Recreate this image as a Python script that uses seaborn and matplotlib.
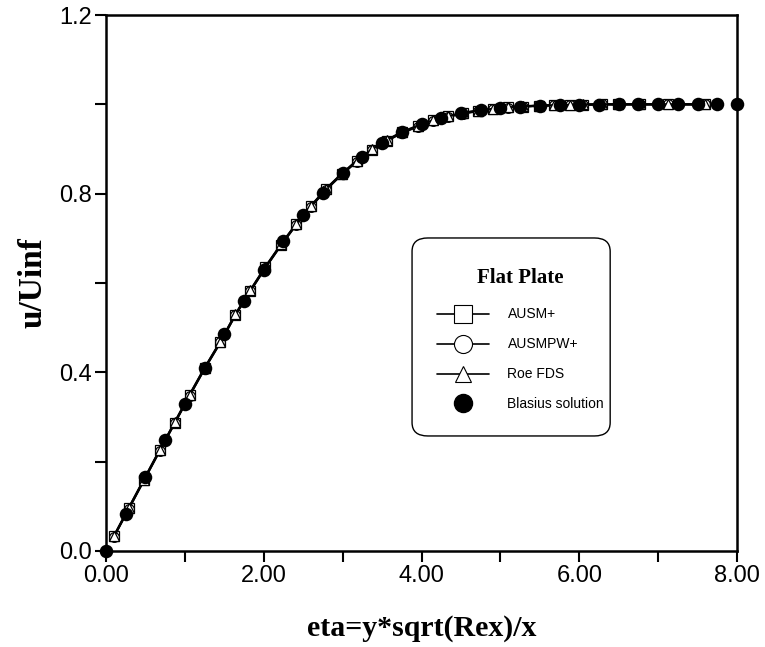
import numpy as np
import pandas as pd
import matplotlib
matplotlib.use("Agg")
import matplotlib.pyplot as plt
import seaborn as sns
from matplotlib.lines import Line2D
from matplotlib.patches import FancyBboxPatch
from matplotlib.ticker import MultipleLocator, FormatStrFormatter

# ---- data ----
eta_num = [0.10, 0.29, 0.48, 0.68, 0.87, 1.06, 1.25, 1.45, 1.64, 1.83, 2.02, 2.22,
           2.41, 2.60, 2.79, 2.99, 3.18, 3.37, 3.56, 3.75, 3.95, 4.14, 4.33, 4.52,
           4.72, 4.91, 5.10, 5.29, 5.49, 5.68, 5.88, 6.05, 6.29, 6.49, 6.77, 7.12, 7.59]
u_ausm = [0.033, 0.096, 0.159, 0.225, 0.287, 0.349, 0.409, 0.468, 0.529, 0.583,
          0.635, 0.686, 0.731, 0.772, 0.810, 0.844, 0.873, 0.898, 0.919, 0.937,
          0.951, 0.964, 0.973, 0.980, 0.986, 0.990, 0.993, 0.995, 0.997, 0.998,
          0.999, 0.999, 1.000, 1.000, 1.000, 1.000, 1.000]
u_ausmpw = [0.032, 0.095, 0.158, 0.224, 0.286, 0.348, 0.408, 0.467, 0.528, 0.582,
            0.634, 0.685, 0.730, 0.771, 0.809, 0.843, 0.872, 0.897, 0.918, 0.936,
            0.950, 0.963, 0.972, 0.979, 0.985, 0.989, 0.992, 0.995, 0.997, 0.998,
            0.999, 0.999, 1.000, 1.000, 1.000, 1.000, 1.000]
u_roe = [0.033, 0.097, 0.160, 0.226, 0.288, 0.350, 0.410, 0.469, 0.530, 0.584,
         0.636, 0.687, 0.732, 0.773, 0.811, 0.845, 0.874, 0.899, 0.920, 0.938,
         0.952, 0.964, 0.973, 0.981, 0.986, 0.990, 0.993, 0.996, 0.997, 0.998,
         0.999, 1.000, 1.000, 1.000, 1.000, 1.000, 1.000]

eta_bl = [0.00, 0.25, 0.50, 0.75, 1.00, 1.25, 1.50, 1.75, 2.00, 2.25, 2.50, 2.75,
          3.00, 3.25, 3.50, 3.75, 4.00, 4.25, 4.50, 4.75, 5.00, 5.25, 5.50, 5.75,
          6.00, 6.25, 6.50, 6.75, 7.00, 7.25, 7.50, 7.75, 8.00]
u_bl = [0.0000, 0.0830, 0.1659, 0.2483, 0.3298, 0.4095, 0.4868, 0.5606, 0.6298,
        0.6936, 0.7513, 0.8021, 0.8460, 0.8829, 0.9130, 0.9370, 0.9555, 0.9694,
        0.9795, 0.9866, 0.9916, 0.9948, 0.9969, 0.9982, 0.9990, 0.9994, 0.9997,
        0.9998, 0.9999, 1.0000, 1.0000, 1.0000, 1.0000]

x_ticks = [0, 2, 4, 6, 8]
y_ticks = [0.0, 0.4, 0.8, 1.2]

sns.set_theme(style="white")
plt.rcParams['font.family'] = ['Liberation Sans', 'DejaVu Sans']
plt.rcParams['text.color'] = 'black'
plt.rcParams['axes.labelcolor'] = 'black'
plt.rcParams['xtick.color'] = 'black'
plt.rcParams['ytick.color'] = 'black'

fig = plt.figure(figsize=(7.65, 6.47), dpi=100)
ax = fig.add_axes([0.1386, 0.1484, 0.8248, 0.8284])

df_num = pd.DataFrame({"eta": eta_num, "AUSM+": u_ausm, "AUSMPW+": u_ausmpw, "Roe FDS": u_roe})
df_bl = pd.DataFrame({"eta": eta_bl, "u": u_bl})

ms = 7
for col, mk in [("AUSM+", "s"), ("AUSMPW+", "o"), ("Roe FDS", "^")]:
    sns.lineplot(data=df_num, x="eta", y=col, ax=ax, color="black", linewidth=1.6,
                 marker=mk, markersize=ms, markerfacecolor="white",
                 markeredgecolor="black", markeredgewidth=0.9, sort=False,
                 legend=False, clip_on=False, zorder=3)

sns.scatterplot(data=df_bl, x="eta", y="u", ax=ax, color="black", s=95,
                edgecolor="black", linewidth=0, marker="o", legend=False,
                clip_on=False, zorder=4)

ax.set_xlim(0, 8)
ax.set_ylim(0, 1.2)
ax.set_xticks(x_ticks)
ax.set_yticks(y_ticks)
ax.xaxis.set_major_formatter(FormatStrFormatter("%.2f"))
ax.yaxis.set_major_formatter(FormatStrFormatter("%.1f"))
ax.xaxis.set_minor_locator(MultipleLocator(1))
ax.yaxis.set_minor_locator(MultipleLocator(0.2))
ax.tick_params(axis="both", which="both", direction="out", length=8, width=1.5,
               color="black", labelsize=17, labelcolor="black", pad=2)
ax.tick_params(axis="x", which="both", bottom=True, top=False)
ax.tick_params(axis="y", which="both", left=True, right=False)

for sp in ax.spines.values():
    sp.set_color("black")
    sp.set_linewidth(1.8)

ax.set_xlabel("eta=y*sqrt(Rex)/x", fontsize=21.5, fontweight="bold", color="black",
              family=["Liberation Serif"], labelpad=20)
ax.set_ylabel("u/Uinf", fontsize=24, fontweight="bold", color="black",
              family=["Liberation Serif"], labelpad=8)

# legend box (rounded frame drawn separately for exact size)
box = FancyBboxPatch((0.485, 0.2146), 0.314, 0.3694, transform=ax.transAxes,
                     boxstyle="round,pad=0,rounding_size=0.025",
                     facecolor="white", edgecolor="black", linewidth=1.0, zorder=5)
ax.add_patch(box)

handles = [
    Line2D([], [], color="black", lw=1.2, marker="s", markersize=13,
           markerfacecolor="white", markeredgecolor="black", markeredgewidth=0.8),
    Line2D([], [], color="black", lw=1.2, marker="o", markersize=13,
           markerfacecolor="white", markeredgecolor="black", markeredgewidth=0.8),
    Line2D([], [], color="black", lw=1.2, marker="^", markersize=12,
           markerfacecolor="white", markeredgecolor="black", markeredgewidth=0.8),
    Line2D([], [], color="black", lw=0, marker="o", markersize=13,
           markerfacecolor="black", markeredgecolor="black"),
]
labels = ["AUSM+", "AUSMPW+", "Roe FDS", "Blasius solution"]
leg = ax.legend(handles, labels, loc="upper left", bbox_to_anchor=(0.524, 0.528),
                frameon=False, fontsize=10, handlelength=3.8, handletextpad=1.3,
                labelspacing=1.15, borderpad=0, borderaxespad=0,
                title="Flat Plate",
                title_fontproperties={"family": "Liberation Serif", "weight": "bold", "size": 15})
leg.set_zorder(6)
for t in leg.get_texts():
    t.set_color("black")
leg.get_title().set_color("black")
leg._legend_box.sep = 14

fig.savefig("out.png", dpi=100)
